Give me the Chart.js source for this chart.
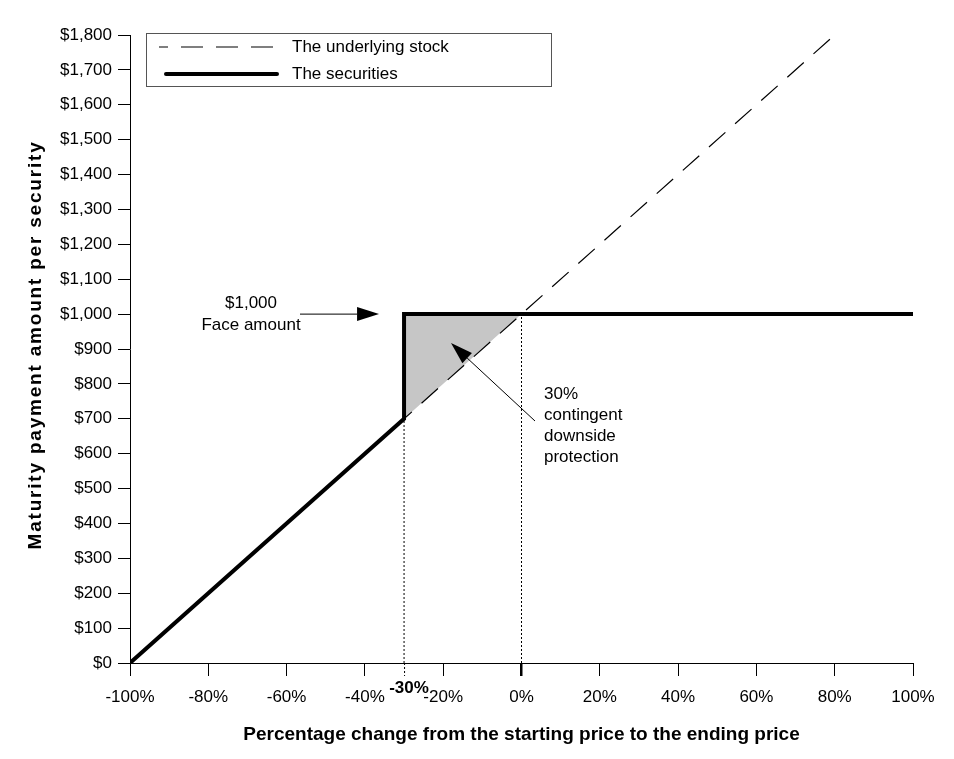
<!DOCTYPE html>
<html>
<head>
<meta charset="utf-8">
<script src="https://cdn.jsdelivr.net/npm/chart.js@4/dist/chart.umd.min.js"></script>
<style>
  html, body { margin: 0; padding: 0; background: #fff; }
  #wrap { width: 954px; height: 759px; }
</style>
</head>
<body>
<div id="wrap"><canvas id="payoff-chart"></canvas></div>
<script>
const FONT = "'Liberation Sans', Arial, sans-serif";

// underlying stock: straight line, cut at the top of the axis
const stockPct = [-100, 80];
const stockValue = [0, 1800];

// the securities payoff
const securitiesPct = [-100, -30, -30, 100];
const securitiesValue = [0, 700, 1000, 1000];

// shaded protection triangle
const protectionPct = [-30, -30, 0, -30];
const protectionValue = [700, 1000, 1000, 700];

// dotted guide lines
const barrierGuidePct = [-30, -30];
const barrierGuideValue = [0, 700];
const startGuidePct = [0, 0];
const startGuideValue = [0, 1000];

const seriesLabels = ["The underlying stock", "The securities"];
const faceAmount = 1000;
const barrierPct = -30;
const faceText = ["$1,000", "Face amount"];
const protectionText = ["30%", "contingent", "downside", "protection"];
const yTitle = "Maturity payment amount per security";
const xTitle = "Percentage change from the starting price to the ending price";

function toPoints(xs, ys) {
  return xs.map(function (x, i) {
    return { x: x, y: ys[i] };
  });
}

function arrow(ctx, x1, y1, x2, y2) {
  const ang = Math.atan2(y2 - y1, x2 - x1);
  const len = 22, half = 7;
  ctx.beginPath();
  ctx.moveTo(x1, y1);
  ctx.lineTo(x2 - Math.cos(ang) * len, y2 - Math.sin(ang) * len);
  ctx.stroke();
  ctx.beginPath();
  ctx.moveTo(x2, y2);
  ctx.lineTo(x2 - Math.cos(ang) * len - Math.sin(ang) * half, y2 - Math.sin(ang) * len + Math.cos(ang) * half);
  ctx.lineTo(x2 - Math.cos(ang) * len + Math.sin(ang) * half, y2 - Math.sin(ang) * len - Math.cos(ang) * half);
  ctx.closePath();
  ctx.fill();
}

const extras = {
  id: "extras",
  afterDraw(chart) {
    const ctx = chart.ctx;
    const xs = chart.scales.x;
    const ys = chart.scales.y;
    const area = chart.chartArea;
    ctx.save();
    ctx.strokeStyle = "#000";
    ctx.fillStyle = "#000";

    // y axis title (wide letter spacing like the original)
    ctx.save();
    ctx.translate(36, (area.top + area.bottom) / 2 - 4);
    ctx.rotate(-Math.PI / 2);
    ctx.font = "bold 19px " + FONT;
    ctx.letterSpacing = "1.8px";
    ctx.textAlign = "center";
    ctx.textBaseline = "middle";
    ctx.fillText(yTitle, 0, 0);
    ctx.restore();

    // dotted tick under the barrier and its bold label
    const bx = xs.getPixelForValue(barrierPct);
    ctx.lineWidth = 1;
    ctx.setLineDash([2, 2]);
    ctx.beginPath();
    ctx.moveTo(bx + 0.5, area.bottom);
    ctx.lineTo(bx + 0.5, area.bottom + 13);
    ctx.stroke();
    ctx.setLineDash([]);
    ctx.font = "bold 17px " + FONT;
    ctx.textAlign = "center";
    ctx.textBaseline = "middle";
    ctx.fillText(barrierPct + "%", bx + 5, area.bottom + 25);

    // legend box
    const lx = area.left + 16, ly = area.top - 2, lw = 405, lh = 53;
    ctx.fillStyle = "#fff";
    ctx.fillRect(lx, ly, lw, lh);
    ctx.strokeStyle = "#555";
    ctx.lineWidth = 1;
    ctx.strokeRect(lx + 0.5, ly + 0.5, lw, lh);
    ctx.strokeStyle = "#000";
    ctx.fillStyle = "#000";
    ctx.lineWidth = 1.2;
    ctx.setLineDash([22, 13]);
    ctx.lineDashOffset = 13;
    ctx.beginPath();
    ctx.moveTo(lx + 13, ly + 14);
    ctx.lineTo(lx + 131, ly + 14);
    ctx.stroke();
    ctx.setLineDash([]);
    ctx.lineWidth = 4;
    ctx.lineCap = "round";
    ctx.beginPath();
    ctx.moveTo(lx + 20, ly + 41);
    ctx.lineTo(lx + 131, ly + 41);
    ctx.stroke();
    ctx.lineCap = "butt";
    ctx.font = "17px " + FONT;
    ctx.textAlign = "left";
    ctx.fillText(seriesLabels[0], lx + 146, ly + 14);
    ctx.fillText(seriesLabels[1], lx + 146, ly + 41);

    // $1,000 face amount note
    const fy = ys.getPixelForValue(faceAmount);
    ctx.textAlign = "center";
    ctx.fillText(faceText[0], 251, fy - 11);
    ctx.fillText(faceText[1], 251, fy + 11);
    ctx.lineWidth = 1;
    arrow(ctx, 300, fy, bx - 25, fy);

    // protection note
    ctx.textAlign = "left";
    protectionText.forEach(function (t, i) {
      ctx.fillText(t, 544, 394 + i * 21);
    });
    const tipX = xs.getPixelForValue(-18);
    const tipY = ys.getPixelForValue(917);
    arrow(ctx, 535, 421, tipX, tipY);

    ctx.restore();
  },
};

new Chart(document.getElementById("payoff-chart"), {
  type: "line",
  data: {
    datasets: [
      {
        label: seriesLabels[1],
        data: toPoints(securitiesPct, securitiesValue),
        borderColor: "#000",
        borderWidth: 4,
        pointRadius: 0,
        fill: false,
        order: 0,
      },
      {
        label: seriesLabels[0],
        data: toPoints(stockPct, stockValue),
        borderColor: "#000",
        borderWidth: 1.2,
        borderDash: [22, 13],
        borderDashOffset: 29.5,
        pointRadius: 0,
        fill: false,
        order: 1,
      },
      {
        label: "barrier guide",
        data: toPoints(barrierGuidePct, barrierGuideValue),
        borderColor: "#000",
        borderWidth: 1,
        borderDash: [2, 2],
        pointRadius: 0,
        fill: false,
        order: 2,
      },
      {
        label: "start guide",
        data: toPoints(startGuidePct, startGuideValue),
        borderColor: "#000",
        borderWidth: 1,
        borderDash: [2, 2],
        pointRadius: 0,
        fill: false,
        order: 2,
      },
      {
        label: "protection",
        data: toPoints(protectionPct, protectionValue),
        borderColor: "rgba(0,0,0,0)",
        borderWidth: 0,
        backgroundColor: "#c6c6c6",
        pointRadius: 0,
        fill: "shape",
        order: 3,
      },
    ],
  },
  options: {
    responsive: true,
    maintainAspectRatio: false,
    animation: false,
    layout: {
      padding: { top: 35, right: 41, left: 0, bottom: 0 },
    },
    plugins: {
      legend: { display: false },
      tooltip: { enabled: false },
    },
    scales: {
      x: {
        type: "linear",
        min: -100,
        max: 100,
        afterFit: function (scale) {
          scale.height = 96;
        },
        ticks: {
          stepSize: 20,
          padding: 11,
          color: "#000",
          maxRotation: 0,
          font: { family: FONT, size: 17 },
          callback: function (v) {
            return v + "%";
          },
        },
        grid: {
          drawOnChartArea: false,
          tickLength: 13,
          color: "#000",
          lineWidth: function (c) {
            return c.tick && c.tick.value === 0 ? 2.5 : 1;
          },
        },
        border: { color: "#000", width: 1 },
        title: {
          display: true,
          text: xTitle,
          color: "#000",
          font: { family: FONT, size: 19, weight: "bold" },
          padding: { top: 0, bottom: 13 },
        },
      },
      y: {
        min: 0,
        max: 1800,
        afterFit: function (scale) {
          scale.width = 130;
        },
        ticks: {
          stepSize: 100,
          padding: 6,
          color: "#000",
          font: { family: FONT, size: 17 },
          callback: function (v) {
            return "$" + v.toLocaleString("en-US");
          },
        },
        grid: {
          drawOnChartArea: false,
          tickLength: 12,
          color: "#000",
        },
        border: { color: "#000", width: 1 },
      },
    },
  },
  plugins: [extras],
});
</script>
</body>
</html>
